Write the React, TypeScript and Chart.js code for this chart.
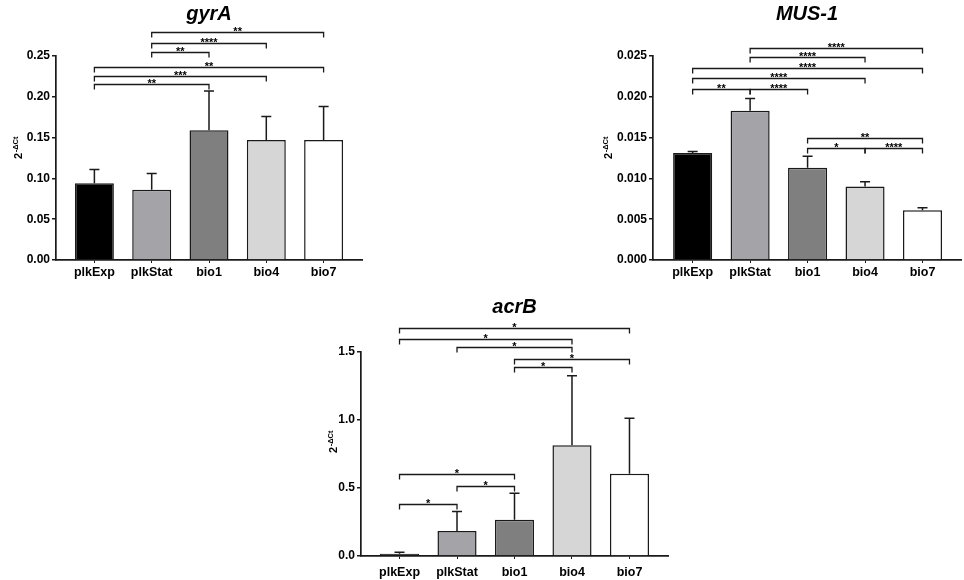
import React, { useEffect, useRef } from 'react';
import { Chart, BarController, BarElement, LinearScale } from 'chart.js';

Chart.register(BarController, BarElement, LinearScale);

const FONT = "'Liberation Sans', Arial, sans-serif";

const groups = ['plkExp', 'plkStat', 'bio1', 'bio4', 'bio7'];
const barColors = ['#000000', '#a4a3a8', '#7f7f7f', '#d6d6d6', '#ffffff'];

// gyrA
const gyrAMeans = [0.094, 0.086, 0.159, 0.147, 0.147];
const gyrAErrors = [0.017, 0.020, 0.048, 0.029, 0.041];
const gyrATicks = [0, 0.05, 0.1, 0.15, 0.2, 0.25];
// [from group, to group, height, label]
const gyrABrackets: [number, number, number, string][] = [
    [1, 4, 0.279, '**'],
    [1, 3, 0.266, '****'],
    [1, 2, 0.2545, '**'],
    [0, 4, 0.237, '**'],
    [0, 3, 0.226, '***'],
    [0, 2, 0.216, '**']
];

// MUS-1
const musMeans = [0.0131, 0.0183, 0.0113, 0.0090, 0.0061];
const musErrors = [0.0002, 0.0015, 0.0014, 0.0006, 0.0003];
const musTicks = [0, 0.005, 0.01, 0.015, 0.02, 0.025];
const musBrackets: [number, number, number, string][] = [
    [1, 4, 0.0260, '****'],
    [1, 3, 0.02484, '****'],
    [0, 4, 0.02349, '****'],
    [0, 3, 0.02227, '****'],
    [0, 1, 0.02092, '**'],
    [1, 2, 0.02092, '****'],
    [2, 4, 0.01499, '**'],
    [2, 3, 0.01369, '*'],
    [3, 4, 0.01369, '****']
];

// acrB
const acrBMeans = [0.017, 0.184, 0.266, 0.814, 0.605];
const acrBErrors = [0.010, 0.143, 0.196, 0.512, 0.408];
const acrBTicks = [0, 0.5, 1.0, 1.5];
const acrBBrackets: [number, number, number, string][] = [
    [0, 4, 1.677, '*'],
    [0, 3, 1.599, '*'],
    [1, 3, 1.537, '*'],
    [2, 4, 1.451, '*'],
    [2, 3, 1.390, '*'],
    [0, 2, 0.600, '*'],
    [1, 2, 0.516, '*'],
    [0, 1, 0.386, '*']
];

const AXIS = '#1a1a1a';

function BarPanel(props) {
    const canvas = useRef(null);
    const { title, means, errors, ticks, digits, brackets, box, area, xMin, titleY, yTitle, labelPad } = props;

    useEffect(() => {
        const errorBars = {
            id: 'errorBars',
            afterDatasetsDraw(chart) {
                const { ctx } = chart;
                const y = chart.scales.y;
                const meta = chart.getDatasetMeta(0);
                ctx.save();
                ctx.strokeStyle = AXIS;
                ctx.lineWidth = 1.5;
                meta.data.forEach((bar, i) => {
                    const from = y.getPixelForValue(means[i]);
                    const to = y.getPixelForValue(means[i] + errors[i]);
                    ctx.beginPath();
                    ctx.moveTo(bar.x, from);
                    ctx.lineTo(bar.x, to);
                    ctx.moveTo(bar.x - 5, to);
                    ctx.lineTo(bar.x + 5, to);
                    ctx.stroke();
                });
                ctx.restore();
            }
        };

        const extras = {
            id: 'extras',
            afterDraw(chart) {
                const { ctx, chartArea } = chart;
                const xs = chart.scales.x;
                const ys = chart.scales.y;
                ctx.save();
                ctx.strokeStyle = AXIS;
                ctx.fillStyle = '#000';
                ctx.lineWidth = 1.3;
                ctx.font = `bold 11px ${FONT}`;
                ctx.textAlign = 'center';
                ctx.textBaseline = 'alphabetic';
                brackets.forEach(([a, b, v, label]) => {
                    const x1 = xs.getPixelForValue(a);
                    const x2 = xs.getPixelForValue(b);
                    const yy = Math.round(ys.getPixelForValue(v)) + 0.5;
                    ctx.beginPath();
                    ctx.moveTo(x1, yy + 5);
                    ctx.lineTo(x1, yy);
                    ctx.lineTo(x2, yy);
                    ctx.lineTo(x2, yy + 5);
                    ctx.stroke();
                    ctx.fillText(label, (x1 + x2) / 2, yy + 2.5);
                });

                // title
                ctx.font = `italic bold 20px ${FONT}`;
                ctx.fillText(title, (chartArea.left + chartArea.right) / 2, titleY);

                // y axis title 2^-ΔCt
                ctx.translate(yTitle.x, yTitle.y);
                ctx.rotate(-Math.PI / 2);
                ctx.textAlign = 'left';
                ctx.font = `bold 11px ${FONT}`;
                const w1 = ctx.measureText('2').width;
                ctx.font = `bold 7.5px ${FONT}`;
                const w2 = ctx.measureText('-ΔCt').width;
                const start = -(w1 + w2) / 2;
                ctx.font = `bold 11px ${FONT}`;
                ctx.fillText('2', start, 0);
                ctx.font = `bold 7.5px ${FONT}`;
                ctx.fillText('-ΔCt', start + w1 + 0.5, -4.5);
                ctx.restore();
            }
        };

        const chart = new Chart(canvas.current, {
            type: 'bar',
            data: {
                datasets: [{
                    data: groups.map((_, i) => ({ x: i, y: means[i] })),
                    backgroundColor: barColors,
                    borderColor: AXIS,
                    borderWidth: 1.5,
                    barPercentage: 0.68,
                    categoryPercentage: 1
                }]
            },
            options: {
                responsive: false,
                animation: false,
                layout: {
                    padding: { top: area.top, right: box.width - area.right, bottom: 0, left: 0 }
                },
                plugins: {
                    legend: { display: false },
                    tooltip: { enabled: false }
                },
                scales: {
                    x: {
                        type: 'linear',
                        offset: false,
                        min: xMin,
                        max: 4.67,
                        afterFit: (s) => { s.height = box.height - area.bottom; },
                        afterBuildTicks: (s) => { s.ticks = groups.map((_, i) => ({ value: i })); },
                        ticks: {
                            autoSkip: false,
                            maxRotation: 0,
                            padding: labelPad,
                            color: '#000',
                            font: { family: FONT, size: 12.5, weight: 'bold' },
                            callback: (v) => groups[v] ?? ''
                        },
                        grid: { offset: false, drawOnChartArea: false, tickLength: 3, color: AXIS, lineWidth: 1 },
                        border: { color: AXIS, width: 1.7 }
                    },
                    y: {
                        type: 'linear',
                        min: 0,
                        max: ticks[ticks.length - 1],
                        afterFit: (s) => { s.width = area.left; },
                        afterBuildTicks: (s) => { s.ticks = ticks.map(value => ({ value })); },
                        ticks: {
                            padding: 2,
                            color: '#000',
                            font: { family: FONT, size: 12, weight: 'bold' },
                            callback: (v) => Number(v).toFixed(digits)
                        },
                        grid: { drawOnChartArea: false, tickLength: 4, color: AXIS, lineWidth: 1.5 },
                        border: { color: AXIS, width: 1.7 }
                    }
                }
            },
            plugins: [errorBars, extras]
        });
        return () => {
            chart.destroy();
        };
    }, []);

    return (
        <canvas
            ref={canvas}
            width={box.width}
            height={box.height}
            style={{ position: 'absolute', left: box.left, top: box.top, width: box.width, height: box.height }}
        ></canvas>
    );
}

export default function App() {
    return (
        <div style={{ position: 'absolute', left: 0, top: 0, width: 964, height: 580, background: '#fff', overflow: 'hidden' }}>
            <BarPanel
                title="gyrA"
                means={gyrAMeans}
                errors={gyrAErrors}
                ticks={gyrATicks}
                digits={2}
                brackets={gyrABrackets}
                box={{ left: 0, top: 0, width: 370, height: 290 }}
                area={{ left: 56, right: 362, top: 56, bottom: 260 }}
                xMin={-0.67}
                titleY={20}
                yTitle={{ x: 22, y: 148 }}
                labelPad={2}
            />
            <BarPanel
                title="MUS-1"
                means={musMeans}
                errors={musErrors}
                ticks={musTicks}
                digits={3}
                brackets={musBrackets}
                box={{ left: 590, top: 0, width: 374, height: 290 }}
                area={{ left: 63, right: 371, top: 56, bottom: 260 }}
                xMin={-0.69}
                titleY={20}
                yTitle={{ x: 22, y: 148 }}
                labelPad={2}
            />
            <BarPanel
                title="acrB"
                means={acrBMeans}
                errors={acrBErrors}
                ticks={acrBTicks}
                digits={1}
                brackets={acrBBrackets}
                box={{ left: 300, top: 290, width: 370, height: 290 }}
                area={{ left: 61, right: 368, top: 62, bottom: 266 }}
                xMin={-0.67}
                titleY={23}
                yTitle={{ x: 37, y: 152 }}
                labelPad={6}
            />
        </div>
    );
}
